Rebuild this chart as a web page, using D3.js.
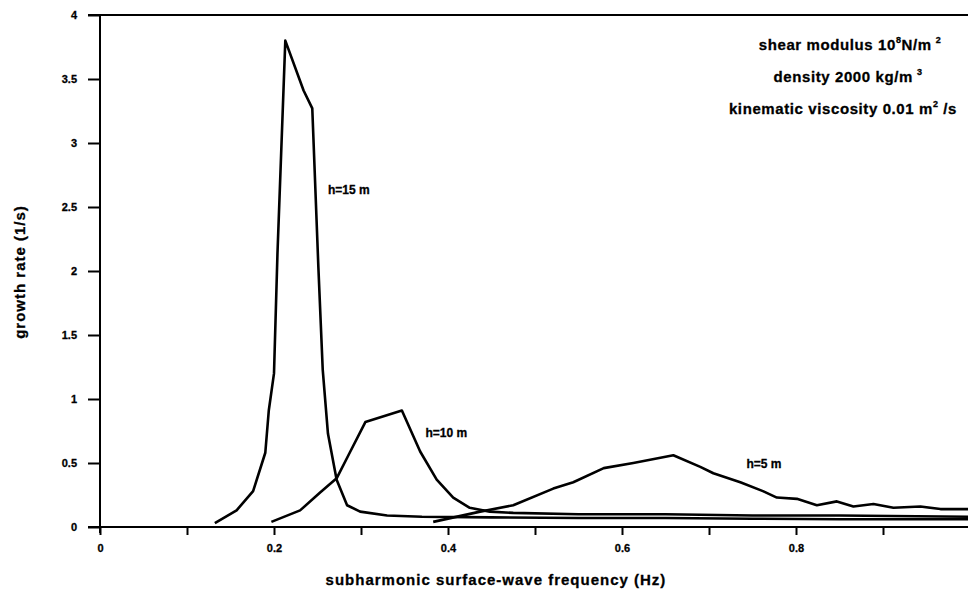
<!DOCTYPE html>
<html>
<head>
<meta charset="utf-8">
<script src="https://cdn.jsdelivr.net/npm/d3@7"></script>
<style>
  body { margin: 0; background: #fff; }
  svg text { font-family: "Liberation Sans", Arial, sans-serif; font-weight: bold; fill: #000; stroke: #000; stroke-width: 0.3px; }
</style>
</head>
<body>
<div id="chart"></div>
<script>
// h = 15 m
var freq15 = [0.132, 0.157, 0.176, 0.190, 0.194, 0.200, 0.204, 0.213, 0.234, 0.244, 0.251, 0.256, 0.262, 0.272, 0.284, 0.299, 0.330, 0.370, 0.45, 0.55, 0.65, 0.75, 0.85, 1.0];
var rate15 = [0.03, 0.13, 0.28, 0.58, 0.91, 1.20, 2.14, 3.80, 3.41, 3.27, 2.03, 1.23, 0.73, 0.37, 0.17, 0.12, 0.09, 0.08, 0.075, 0.07, 0.07, 0.065, 0.06, 0.06];
// h = 10 m
var freq10 = [0.197, 0.230, 0.253, 0.272, 0.287, 0.305, 0.347, 0.368, 0.387, 0.406, 0.425, 0.448, 0.475, 0.55, 0.65, 0.75, 0.85, 1.0];
var rate10 = [0.04, 0.13, 0.27, 0.38, 0.58, 0.82, 0.91, 0.59, 0.37, 0.23, 0.15, 0.12, 0.11, 0.10, 0.10, 0.09, 0.09, 0.08];
// h = 5 m
var freq5 = [0.383, 0.437, 0.475, 0.521, 0.544, 0.579, 0.613, 0.659, 0.690, 0.705, 0.736, 0.762, 0.778, 0.801, 0.824, 0.847, 0.866, 0.889, 0.912, 0.943, 0.966, 1.0];
var rate5 = [0.04, 0.12, 0.17, 0.30, 0.35, 0.46, 0.50, 0.56, 0.47, 0.42, 0.35, 0.28, 0.23, 0.22, 0.17, 0.20, 0.16, 0.18, 0.15, 0.16, 0.14, 0.14];

var curveNames = ["h=15 m", "h=10 m", "h=5 m"];
var labelFreq = [0.262, 0.374, 0.743];   // where the curve labels sit
var labelRate = [2.6, 0.70, 0.46];

var yTicks = [0, 0.5, 1, 1.5, 2, 2.5, 3, 3.5, 4];
var xTicks = [0, 0.1, 0.2, 0.3, 0.4, 0.5, 0.6, 0.7, 0.8, 0.9];
var xTickLabels = ["0", "", "0.2", "", "0.4", "", "0.6", "", "0.8", ""];

var width = 968, height = 597;
var margin = { top: 15, right: -2, bottom: 70, left: 100 };

var x = d3.scaleLinear().domain([0, 1]).range([margin.left, width - margin.right]);
var y = d3.scaleLinear().domain([0, 4]).range([height - margin.bottom, margin.top]);

var svg = d3.select("#chart").append("svg")
    .attr("width", width)
    .attr("height", height);

// top frame line
svg.append("line")
    .attr("x1", x(0) - 12).attr("x2", width)
    .attr("y1", y(4)).attr("y2", y(4))
    .attr("stroke", "#000").attr("stroke-width", 2);

// y axis
var yAxis = svg.append("g")
    .attr("transform", "translate(" + x(0) + ",0)")
    .call(d3.axisLeft(y).tickValues(yTicks).tickSize(12).tickPadding(11)
        .tickFormat(function (d) { return String(d); }));
yAxis.select(".domain").attr("stroke-width", 2).attr("d", "M0," + y(4) + "V" + (y(0) + 6));
yAxis.selectAll(".tick line").attr("stroke-width", 2);
yAxis.selectAll("text").style("font-size", "11px");

// x axis
var xAxis = svg.append("g")
    .attr("transform", "translate(0," + y(0) + ")")
    .call(d3.axisBottom(x).tickValues(xTicks).tickSize(8).tickPadding(9)
        .tickFormat(function (d, i) { return xTickLabels[i]; }));
xAxis.select(".domain").attr("stroke-width", 2).attr("d", "M" + (x(0) - 12) + ",0H" + width);
xAxis.selectAll(".tick line").attr("stroke-width", 2);
xAxis.selectAll("text").style("font-size", "11px");

// axis titles
svg.append("text")
    .attr("x", 496).attr("y", 585)
    .attr("text-anchor", "middle")
    .style("font-size", "15px")
    .style("letter-spacing", "1px")
    .text("subharmonic surface-wave frequency (Hz)");

svg.append("text")
    .attr("transform", "translate(25,272) rotate(-90)")
    .attr("text-anchor", "middle")
    .style("font-size", "15px")
    .style("letter-spacing", "1px")
    .text("growth rate (1/s)");

// curves
var line = d3.line()
    .x(function (d) { return x(d[0]); })
    .y(function (d) { return y(d[1]); });

var series = [d3.zip(freq15, rate15), d3.zip(freq10, rate10), d3.zip(freq5, rate5)];

svg.selectAll("path.curve")
    .data(series)
    .enter().append("path")
    .attr("class", "curve")
    .attr("d", line)
    .attr("fill", "none")
    .attr("stroke", "#000")
    .attr("stroke-width", 2.6)
    .attr("stroke-linejoin", "round");

svg.selectAll("text.curve-label")
    .data(curveNames)
    .enter().append("text")
    .attr("class", "curve-label")
    .attr("x", function (d, i) { return x(labelFreq[i]); })
    .attr("y", function (d, i) { return y(labelRate[i]); })
    .style("font-size", "12px")
    .text(function (d) { return d; });

// material parameters (top right)
var notes = svg.append("g").attr("text-anchor", "middle")
    .style("font-size", "15px").style("letter-spacing", "0.6px");

var t1 = notes.append("text").attr("x", 850).attr("y", 50);
t1.append("tspan").text("shear modulus 10");
t1.append("tspan").attr("dy", -7).style("font-size", "9px").text("8");
t1.append("tspan").attr("dy", 7).text("N/m");
t1.append("tspan").attr("dy", -7).attr("dx", 4).style("font-size", "9px").text("2");

var t2 = notes.append("text").attr("x", 848).attr("y", 82);
t2.append("tspan").text("density 2000 kg/m");
t2.append("tspan").attr("dy", -7).attr("dx", 4).style("font-size", "9px").text("3");

var t3 = notes.append("text").attr("x", 843).attr("y", 114);
t3.append("tspan").text("kinematic viscosity 0.01 m");
t3.append("tspan").attr("dy", -7).style("font-size", "9px").text("2");
t3.append("tspan").attr("dy", 7).text(" /s");
</script>
</body>
</html>
